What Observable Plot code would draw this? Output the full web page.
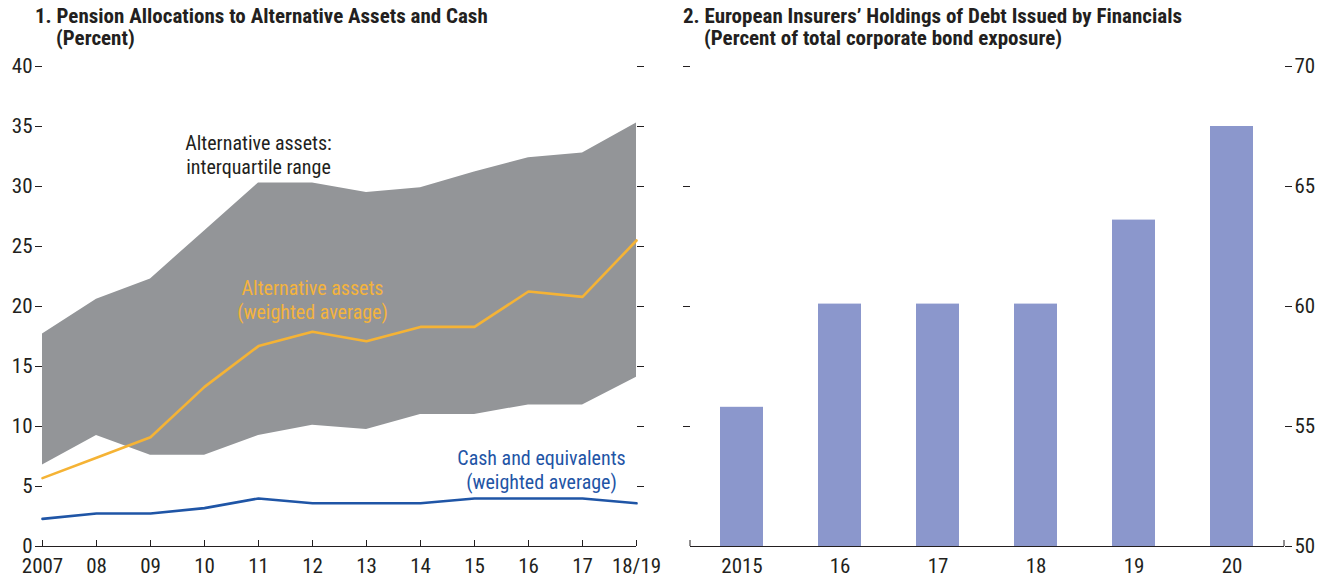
<!DOCTYPE html>
<html>
<head>
<meta charset="utf-8">
<script src="https://cdn.jsdelivr.net/npm/d3@7"></script>
<script src="https://cdn.jsdelivr.net/npm/@observablehq/plot@0.6"></script>
<style>
  body { margin: 0; background: #fff; width: 1333px; height: 578px; overflow: hidden; position: relative;
         font-family: "Liberation Sans Narrow", "Arial Narrow", "Roboto Condensed", sans-serif; color: #231f20; }
  .title { position: absolute; font-weight: bold; font-size: 21px; line-height: 22px; white-space: nowrap; }
  .panel { position: absolute; top: 50px; }
</style>
</head>
<body>
<div class="title" style="left:35px; top:5px;">1. Pension Allocations to Alternative Assets and Cash<br><span style="padding-left:21px">(Percent)</span></div>
<div class="title" style="left:683px; top:5px;">2. European Insurers’ Holdings of Debt Issued by Financials<br><span style="padding-left:21px">(Percent of total corporate bond exposure)</span></div>
<div id="left" class="panel" style="left:0px;"></div>
<div id="right" class="panel" style="left:666px;"></div>
<script>
// Panel 1 data
const years = ["2007","08","09","10","11","12","13","14","15","16","17","18/19"];
const iqrLow  = [6.8, 9.25, 7.6, 7.6, 9.25, 10.1, 9.75, 11.0, 11.0, 11.8, 11.8, 14.1];
const iqrHigh = [17.7, 20.6, 22.3, 26.3, 30.3, 30.3, 29.5, 29.9, 31.2, 32.4, 32.8, 35.3];
const altAvg  = [5.7, 7.4, 9.1, 13.3, 16.7, 17.9, 17.1, 18.3, 18.3, 21.25, 20.8, 25.5];
const cashAvg = [2.3, 2.75, 2.75, 3.2, 4.0, 3.6, 3.6, 3.6, 4.0, 4.0, 4.0, 3.6];
const leftTicks = [0, 5, 10, 15, 20, 25, 30, 35, 40];

// Panel 2 data
const barYears = ["2015","16","17","18","19","20"];
const barValues = [55.8, 60.1, 60.1, 60.1, 63.6, 67.5];
const rightTicks = [50, 55, 60, 65, 70];

const FONT = '"Liberation Sans Narrow", "Arial Narrow", "Roboto Condensed", sans-serif';
const INK = "#231f20";

const rows = years.map((y, i) => ({year: y, low: iqrLow[i], high: iqrHigh[i], alt: altAvg[i], cash: cashAvg[i]}));

const left = Plot.plot({
  width: 666, height: 528,
  marginTop: 16, marginBottom: 32, marginLeft: 42, marginRight: 30,
  style: {fontFamily: FONT, fontSize: "21px", color: INK, background: "transparent", overflow: "visible"},
  x: {type: "point", domain: years, padding: 0, label: null},
  y: {domain: [0, 40], label: null},
  marks: [
    Plot.areaY(rows, {x: "year", y1: "low", y2: "high", fill: "#939598"}),
    Plot.line(rows, {x: "year", y: "alt", stroke: "#f5b335", strokeWidth: 2.6}),
    Plot.line(rows, {x: "year", y: "cash", stroke: "#1f55a6", strokeWidth: 2.6}),
    Plot.ruleY([0], {stroke: INK, strokeWidth: 1}),
    Plot.ruleX(years, {x: d => d, y1: 0, y2: 0.5, stroke: INK, strokeWidth: 1}),
    Plot.axisX({tickSize: 0, tickPadding: 12, fontSize: 21, label: null}),
    Plot.axisY({anchor: "left", ticks: leftTicks, tickSize: 7, tickPadding: 3, label: null, fontSize: 21}),
    Plot.axisY({anchor: "right", ticks: leftTicks.slice(1), tickSize: 7, tickFormat: () => "", label: null}),
    Plot.text(["Alternative assets:\ninterquartile range"], {x: () => "11", y: () => 32.7, text: d => d, fill: INK, fontSize: 20, lineHeight: 1.2}),
    Plot.text(["Alternative assets\n(weighted average)"], {x: () => "12", y: () => 20.6, text: d => d, fill: "#f3b33d", fontSize: 20, lineHeight: 1.2}),
    Plot.text(["Cash and equivalents\n(weighted average)"], {x: () => "16", y: () => 6.4, text: d => d, fill: "#1f55a6", fontSize: 20, lineHeight: 1.2, dx: 13})
  ]
});
document.getElementById("left").appendChild(left);

const bars = barYears.map((y, i) => ({year: y, value: barValues[i]}));
const right = Plot.plot({
  width: 667, height: 528,
  marginTop: 16, marginBottom: 32, marginLeft: 24, marginRight: 49,
  style: {fontFamily: FONT, fontSize: "21px", color: INK, background: "transparent", overflow: "visible"},
  x: {type: "band", domain: barYears, paddingInner: 0.56, paddingOuter: 0.29, label: null},
  y: {domain: [50, 70], label: null},
  marks: [
    Plot.barY(bars, {x: "year", y1: () => 50, y2: "value", fill: "#8b97cc"}),
    Plot.ruleY([50], {stroke: INK, strokeWidth: 1}),
    Plot.axisX({tickSize: 0, tickPadding: 12, fontSize: 21, label: null}),
    Plot.axisY({anchor: "right", ticks: rightTicks, tickSize: 7, tickPadding: 3, label: null, fontSize: 21}),
    Plot.axisY({anchor: "left", ticks: rightTicks.slice(1), tickSize: 7, tickFormat: () => "", label: null})
  ]
});
document.getElementById("right").appendChild(right);

// small end ticks on the right panel's baseline, placed via the plot's own scales
(function () {
  const xs = right.scale("x"), ys = right.scale("y");
  const y0 = ys.apply(50), yt = ys.apply(50.25);
  const svg = d3.select(right);
  [xs.range[0], xs.range[1]].forEach(x => {
    svg.append("line").attr("x1", x).attr("x2", x).attr("y1", y0).attr("y2", yt)
      .attr("stroke", INK).attr("stroke-width", 1);
  });
})();
</script>
</body>
</html>
